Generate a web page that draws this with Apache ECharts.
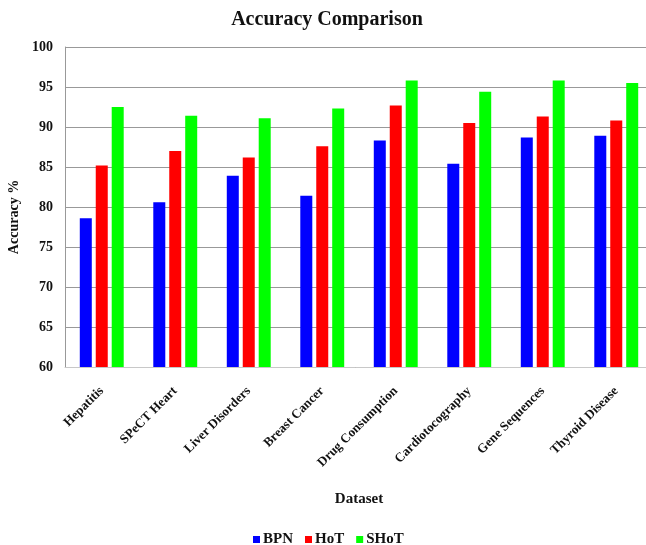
<!DOCTYPE html>
<html>
<head>
<meta charset="utf-8">
<script src="https://cdn.jsdelivr.net/npm/echarts@6/dist/echarts.min.js"></script>
<style>
  html, body { margin: 0; padding: 0; background: #fff; }
  #chart { width: 646px; height: 545px; }
</style>
</head>
<body>
<div id="chart"></div>
<script>
// Datasets compared
const categories = ['Hepatitis', 'SPeCT Heart', 'Liver Disorders', 'Breast Cancer',
  'Drug Consumption', 'Cardiotocography', 'Gene Sequences', 'Thyroid Disease'];

// Accuracy (%) per method
const bpn  = [78.6, 80.6, 83.9, 81.4, 88.3, 85.4, 88.7, 88.9];
const hot  = [85.2, 87.0, 86.2, 87.6, 92.7, 90.5, 91.3, 90.8];
const shot = [92.5, 91.4, 91.1, 92.3, 95.8, 94.4, 95.8, 95.5];

const seriesNames = ['BPN', 'HoT', 'SHoT'];
const seriesColors = ['#0000FF', '#FF0000', '#00FF00'];

const serif = '"Liberation Serif", "Times New Roman", serif';

const chart = echarts.init(document.getElementById('chart'), null, { renderer: 'canvas' });

chart.setOption({
  animation: false,
  backgroundColor: '#ffffff',
  title: {
    text: 'Accuracy Comparison',
    left: 322,
    textAlign: 'center',
    top: 5,
    textStyle: { fontFamily: serif, fontWeight: 'bold', fontSize: 20, color: '#111' }
  },
  legend: {
    data: seriesNames,
    top: 527,
    left: 248,
    itemWidth: 7,
    itemHeight: 7,
    itemGap: 12,
    icon: 'rect',
    textStyle: { fontFamily: serif, fontWeight: 'bold', fontSize: 15, color: '#111', padding: [0, 0, 0, -2] }
  },
  grid: {
    left: 65, top: 47, right: -7, bottom: 178,
    containLabel: false,
    outerBoundsMode: 'none'
  },
  xAxis: {
    type: 'category',
    data: categories,
    name: 'Dataset',
    nameLocation: 'middle',
    nameGap: 125,
    nameTextStyle: { fontFamily: serif, fontWeight: 'bold', fontSize: 15, color: '#111' },
    axisLine: { lineStyle: { color: '#c8c8c8', width: 1 } },
    axisTick: { show: false },
    axisLabel: {
      rotate: 45,
      interval: 0,
      margin: 22,
      fontFamily: serif,
      fontWeight: 'bold',
      fontSize: 13,
      color: '#111'
    }
  },
  yAxis: {
    type: 'value',
    min: 60,
    max: 100,
    interval: 5,
    name: 'Accuracy %',
    nameLocation: 'middle',
    nameGap: 42,
    nameTextStyle: { fontFamily: serif, fontWeight: 'bold', fontSize: 14, color: '#111', padding: [0, 20, 0, 0] },
    axisLine: { show: true, lineStyle: { color: '#999', width: 1 } },
    axisTick: { show: false },
    axisLabel: { margin: 12, fontFamily: serif, fontWeight: 'bold', fontSize: 14, color: '#111' },
    splitLine: { lineStyle: { color: '#999', width: 1 } }
  },
  series: [bpn, hot, shot].map((vals, i) => ({
    name: seriesNames[i],
    type: 'bar',
    data: vals,
    barWidth: 12,
    barGap: '33%',
    itemStyle: { color: seriesColors[i] }
  }))
});
</script>
</body>
</html>
